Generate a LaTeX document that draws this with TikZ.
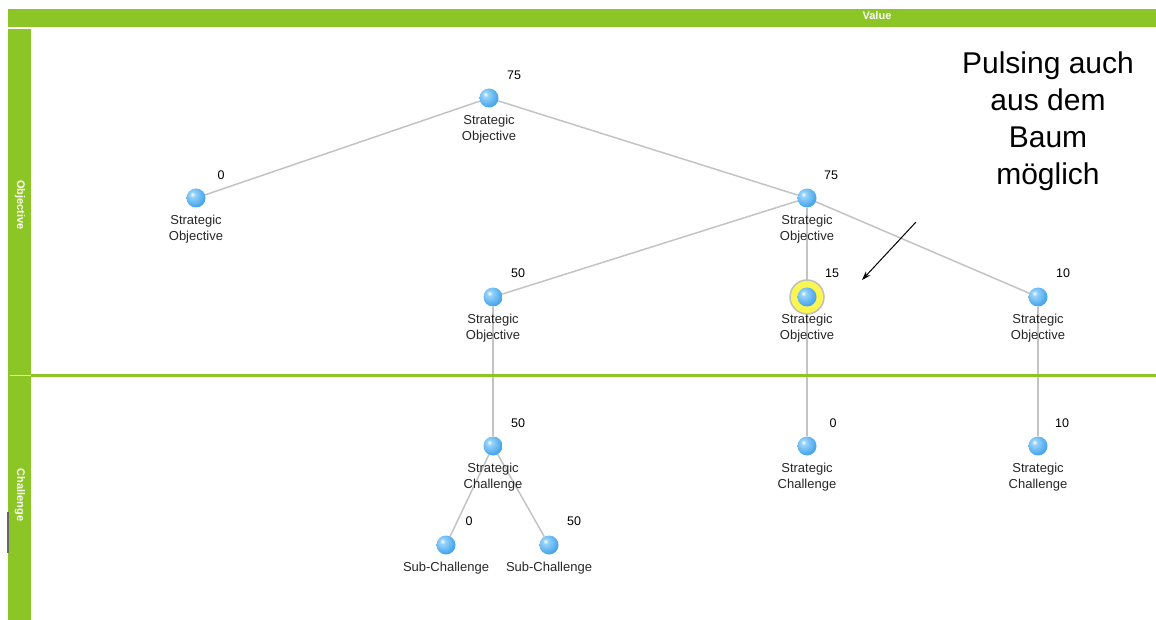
\documentclass[tikz,border=0pt]{standalone}
\usepackage{fontspec}
\setmainfont{Liberation Sans}
\usetikzlibrary{arrows.meta,backgrounds}
\definecolor{barGreen}{RGB}{140,198,38}
\definecolor{ballLight}{RGB}{150,210,250}
\definecolor{ballMid}{RGB}{75,168,236}
\definecolor{ballDark}{RGB}{40,125,205}
\definecolor{edgeGray}{RGB}{195,195,195}
\definecolor{ringYellow}{RGB}{250,245,80}
\pgfdeclareradialshading{myball}{\pgfpoint{-10bp}{10bp}}{color(0bp)=(white); color(7bp)=(ballLight); color(28bp)=(ballMid); color(58bp)=(ballDark); color(80bp)=(ballDark)}
\tikzset{
  ball/.style={circle,minimum size=19,inner sep=0pt,shading=myball},
  edge/.style={draw=edgeGray,line width=1.5pt},
  lbl/.style={align=center,font=\fontsize{13}{16}\selectfont,text=black!85,inner sep=0pt},
  num/.style={font=\fontsize{12.5}{14}\selectfont,inner sep=0pt},
  barlbl/.style={font=\bfseries\fontsize{11}{13}\selectfont,text=white,inner sep=0pt}
}
\begin{document}
\begin{tikzpicture}[x=1pt,y=-1pt]
\useasboundingbox (0,0) rectangle (1156,620);
% frame bars
\fill[barGreen] (8,9) rectangle (1156,27);
\fill[barGreen] (8,29) rectangle (31,620);
\fill[barGreen] (31,374) rectangle (1156,376.5);
\draw[white!70!barGreen,line width=1pt] (10,375) -- (31,375);
\fill[black!60] (6.5,512) rectangle (8.5,553);
\node[barlbl] (vlab) at (877,16) {Value};
\node[barlbl,rotate=-90] (olab) at (20,205) {Objective};
\node[barlbl,rotate=-90] (clab) at (20,495) {Challenge};
% highlight ring
\node[circle,minimum size=34,inner sep=0pt,fill=ringYellow,draw=black!25,line width=1.5pt] (Ering) at (807,297) {};
% balls
\node[ball] (A) at (489,98) {};
\node[ball] (B) at (196,198) {};
\node[ball] (C) at (807,198) {};
\node[ball] (D) at (493,297) {};
\node[ball] (E) at (807,297) {};
\node[ball] (F) at (1038,297) {};
\node[ball] (G) at (493,446) {};
\node[ball] (H) at (807,446) {};
\node[ball] (I) at (1038,446) {};
\node[ball] (J) at (446,545) {};
\node[ball] (K) at (549,545) {};
% labels
\node[lbl] (At) at (489,129) {Strategic\\Objective};
\node[lbl] (Bt) at (196,229) {Strategic\\Objective};
\node[lbl] (Ct) at (807,229) {Strategic\\Objective};
\node[lbl] (Dt) at (493,328) {Strategic\\Objective};
\node[lbl] (Et) at (807,328) {Strategic\\Objective};
\node[lbl] (Ft) at (1038,328) {Strategic\\Objective};
\node[lbl] (Gt) at (493,477) {Strategic\\Challenge};
\node[lbl] (Ht) at (807,477) {Strategic\\Challenge};
\node[lbl] (It) at (1038,477) {Strategic\\Challenge};
\node[lbl] (Jt) at (446,568) {Sub-Challenge};
\node[lbl] (Kt) at (549,568) {Sub-Challenge};
% values
\node[num] (An) at (514,75) {75};
\node[num] (Bn) at (221,175) {0};
\node[num] (Cn) at (831,175) {75};
\node[num] (Dn) at (518,273) {50};
\node[num] (En) at (832,273) {15};
\node[num] (Fn) at (1063,273) {10};
\node[num] (Gn) at (518,423) {50};
\node[num] (Hn) at (833,423) {0};
\node[num] (In) at (1062,423) {10};
\node[num] (Jn) at (469,521) {0};
\node[num] (Kn) at (574,521) {50};
% annotation
\node[align=center,font=\fontsize{30}{37}\selectfont,inner sep=0pt] (note) at (1048,121) {Pulsing auch\\aus dem\\Baum\\möglich};
\coordinate (arrS) at (916,222);
\coordinate (arrE) at (862,280);
\draw[line width=1pt,-{Stealth[length=9pt,width=6pt]}] (arrS) -- (arrE);
% edges
\begin{pgfonlayer}{background}
\draw[edge] (A) -- (B);
\draw[edge] (A) -- (C);
\draw[edge] (C) -- (D);
\draw[edge] (C) -- (E);
\draw[edge] (C) -- (F);
\draw[edge] (D) -- (G);
\draw[edge] (E) -- (H);
\draw[edge] (F) -- (I);
\draw[edge] (G) -- (J);
\draw[edge] (G) -- (K);
\end{pgfonlayer}
\end{tikzpicture}
\end{document}
